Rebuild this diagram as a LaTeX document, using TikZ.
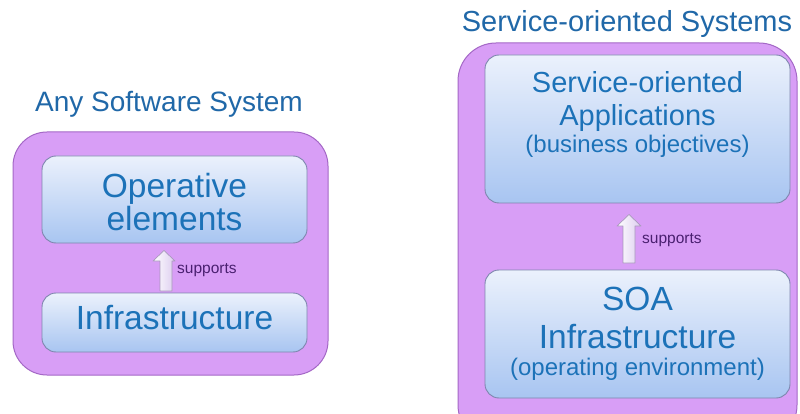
\documentclass[tikz,border=0pt]{standalone}
\usepackage{fontspec}
\setmainfont{Liberation Sans}
\definecolor{outerfill}{HTML}{D89EF6}
\definecolor{outerline}{HTML}{A468C6}
\definecolor{innertop}{HTML}{EBF1FC}
\definecolor{innerbot}{HTML}{A8C5F1}
\definecolor{innerline}{HTML}{7E86AE}
\definecolor{txtblue}{HTML}{1C72B8}
\definecolor{titleblue}{HTML}{2068A8}
\definecolor{suppcol}{HTML}{4A2070}
\definecolor{arrowright}{HTML}{DCCCEF}
\definecolor{arrowline}{HTML}{A898BC}
\begin{document}
\begin{tikzpicture}[x=1pt,y=-1pt,
  outerbox/.style={draw=outerline, line width=1pt, fill=outerfill, rounded corners=34pt, inner sep=0pt, rectangle},
  innerbox/.style={draw=innerline, line width=0.9pt, top color=innertop, bottom color=innerbot, rounded corners=14pt, inner sep=0pt, rectangle},
  ttl/.style={anchor=base, text=titleblue, font=\fontsize{28}{28}\selectfont},
  bigtxt/.style={anchor=base, text=txtblue, font=\fontsize{33.5}{33.5}\selectfont},
  medtxt/.style={anchor=base, text=txtblue, font=\fontsize{29}{29}\selectfont},
  smalltxt/.style={anchor=base, text=txtblue, font=\fontsize{24}{24}\selectfont},
  supptxt/.style={anchor=base west, text=suppcol, font=\fontsize{15.5}{15.5}\selectfont, inner sep=0pt},
  supparrow/.style={draw=arrowline, line width=0.7pt, left color=white, right color=arrowright, line join=round}
]
\clip (0,0) rectangle (800,414);
\fill[white] (0,0) rectangle (800,414);

% ---------- left system ----------
\node[ttl] (titleL) at (169,112) {Any Software System};
\node[outerbox, minimum width=315pt, minimum height=243pt] (outerL) at (170.5,253.5) {};
\node[innerbox, minimum width=265pt, minimum height=87pt] (opbox) at (174.5,199.5) {};
\node[innerbox, minimum width=265pt, minimum height=59pt] (infbox) at (174.5,322.5) {};
\node[bigtxt] (opA) at (174.5,197) {Operative};
\node[bigtxt] (opB) at (174.5,230) {elements};
\node[bigtxt] (infL) at (174.5,329) {Infrastructure};
\draw[supparrow] (160,291) -- (160,261) -- (153,261) -- (164,250.5) -- (175,261) -- (172,261) -- (172,291) -- cycle;
\node[supptxt] (suppL) at (177,273) {supports};

% ---------- right system ----------
\node[ttl, font=\fontsize{29}{29}\selectfont] (titleR) at (627,32) {Service-oriented Systems};
\node[outerbox, rounded corners=38pt, minimum width=339pt, minimum height=400pt] (outerR) at (627.5,243) {};
\node[innerbox, minimum width=305pt, minimum height=148pt] (appbox) at (637.5,129) {};
\node[innerbox, minimum width=305pt, minimum height=128pt] (soabox) at (637.5,334) {};
\node[medtxt] (appA) at (637.5,93) {Service-oriented};
\node[medtxt] (appB) at (637.5,126) {Applications};
\node[smalltxt] (appC) at (637.5,153) {(business objectives)};
\node[bigtxt] (soaA) at (637.5,310) {SOA};
\node[bigtxt] (soaB) at (637.5,348) {Infrastructure};
\node[smalltxt] (soaC) at (637.5,375) {(operating environment)};
\draw[supparrow] (623,263) -- (623,226) -- (617,226) -- (629,214.5) -- (641,226) -- (635,226) -- (635,263) -- cycle;
\node[supptxt] (suppR) at (642,243) {supports};
\end{tikzpicture}
\end{document}
